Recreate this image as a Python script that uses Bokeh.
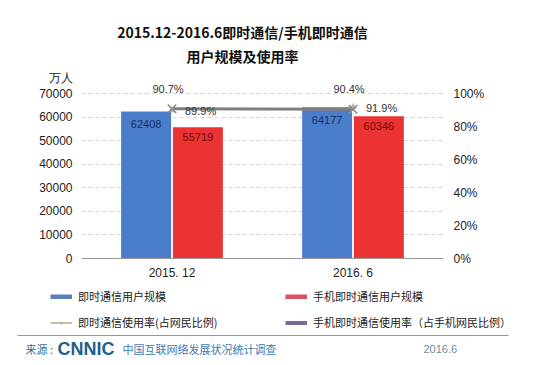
from bokeh.plotting import figure
from bokeh.layouts import column
from bokeh.models import (ColumnDataSource, Range1d, LinearAxis, FactorRange, Label, LabelSet,
                          FixedTicker, CustomJSTickFormatter, Legend, LegendItem, BoxAnnotation)
from bokeh.transform import dodge
from bokeh.core.properties import value
from bokeh.embed import file_html
from bokeh.resources import INLINE

# ---- data ----
periods = ["2015. 12", "2016. 6"]
im_users = [62408, 64177]            # 即时通信用户规模（万人）
mobile_im_users = [55719, 60346]     # 手机即时通信用户规模（万人）
im_rate = [90.7, 90.4]               # 即时通信使用率 %
mobile_im_rate = [89.9, 91.9]        # 手机即时通信使用率 %
y_ticks = [0, 10000, 20000, 30000, 40000, 50000, 60000, 70000]
pct_ticks = [0, 20, 40, 60, 80, 100]
unit_label = "万人"

series_names = ["即时通信用户规模", "手机即时通信用户规模",
                "即时通信使用率(占网民比例)", "手机即时通信使用率（占手机网民比例）"]
title_lines = ["2015.12-2016.6即时通信/手机即时通信", "用户规模及使用率"]

BLUE = "#4a7ecb"
RED = "#ec3333"
CJK = "Noto Sans CJK SC"
LAT = "Liberation Sans"
W = 552

# ---------------- title strip ----------------
top = figure(width=W, height=70, x_range=Range1d(0, W), y_range=Range1d(70, 0),
             x_axis_type=None, y_axis_type=None, output_backend="svg", toolbar_location=None,
             min_border=0, frame_align=False)
top.outline_line_color = None
top.grid.visible = False
top.add_layout(Label(x=242, y=31, text=title_lines[0], text_align="center", text_baseline="middle",
                     text_font=CJK, text_font_style="bold", text_font_size="14px", text_color="#111111"))
top.add_layout(Label(x=242, y=55, text=title_lines[1], text_align="center", text_baseline="middle",
                     text_font=CJK, text_font_style="bold", text_font_size="14px", text_color="#111111"))

# ---------------- main chart ----------------
src = ColumnDataSource(dict(
    period=periods,
    im=im_users, mim=mobile_im_users,
    imr=im_rate, mimr=mobile_im_rate,
    im_lbl=[str(v) for v in im_users],
    mim_lbl=[str(v) for v in mobile_im_users],
    imr_lbl=[f"{v:.1f}%" for v in im_rate],
    mimr_lbl=[f"{v:.1f}%" for v in mobile_im_rate],
))

FRAME_H = 188          # frame pixel height
AXIS_H = 165           # pixels covered by 0..70000
y_top = y_ticks[-1] * FRAME_H / AXIS_H
pct_top = pct_ticks[-1] * FRAME_H / AXIS_H
unit_tick = y_ticks[-1] * (FRAME_H - 5) / AXIS_H

p = figure(width=W, height=213, x_range=FactorRange(*periods), y_range=Range1d(0, y_top),
           output_backend="svg", toolbar_location=None, frame_align=False,
           min_border_left=81, min_border_right=109, min_border_top=0, min_border_bottom=25)
p.outline_line_color = None

p.yaxis.ticker = FixedTicker(ticks=y_ticks + [unit_tick])
p.yaxis.major_label_overrides = {unit_tick: unit_label}
p.yaxis.axis_line_color = None
p.yaxis.major_tick_line_color = None
p.yaxis.minor_tick_line_color = None
p.yaxis.major_tick_out = 0
p.yaxis.major_label_standoff = 9
p.yaxis.major_label_text_font = LAT
p.yaxis.major_label_text_font_size = "12px"
p.yaxis.major_label_text_color = "#222222"

p.xaxis.axis_line_color = "#9a9a9a"
p.xaxis.major_tick_line_color = None
p.xaxis.major_tick_out = 0
p.xaxis.major_label_standoff = 7
p.xaxis.major_label_text_font = LAT
p.xaxis.major_label_text_font_size = "12px"
p.xaxis.major_label_text_color = "#222222"

p.xgrid.visible = False
p.ygrid.ticker = FixedTicker(ticks=y_ticks[1:])
p.ygrid.grid_line_color = "#d4d4d4"
p.ygrid.grid_line_dash = "4 3"

p.extra_y_ranges = {"pct": Range1d(0, pct_top)}
ra = LinearAxis(y_range_name="pct", ticker=FixedTicker(ticks=pct_ticks),
                formatter=CustomJSTickFormatter(code="return tick + '%'"))
ra.axis_line_color = None
ra.major_tick_line_color = None
ra.minor_tick_line_color = None
ra.major_tick_out = 0
ra.major_label_standoff = 10
ra.major_label_text_font = LAT
ra.major_label_text_font_size = "12px"
ra.major_label_text_color = "#222222"
p.add_layout(ra, "right")

p.vbar(x=dodge("period", -0.143, range=p.x_range), top="im", width=0.276, source=src,
       fill_color=BLUE, line_color=None)
p.vbar(x=dodge("period", 0.143, range=p.x_range), top="mim", width=0.276, source=src,
       fill_color=RED, line_color=None)

p.add_layout(LabelSet(x=dodge("period", -0.143, range=p.x_range), y="im", text="im_lbl", source=src,
                      y_offset=-13, text_align="center", text_baseline="middle",
                      text_font=value(LAT), text_font_size="11px", text_color="#1a2e5c"))
p.add_layout(LabelSet(x=dodge("period", 0.143, range=p.x_range), y="mim", text="mim_lbl", source=src,
                      y_offset=-10, text_align="center", text_baseline="middle",
                      text_font=value(LAT), text_font_size="11px", text_color="#6b0a0a"))

p.line(x="period", y="imr", source=src, y_range_name="pct", line_color="#7f7f7f", line_width=3)
p.scatter(x="period", y="mimr", source=src, y_range_name="pct", marker="triangle", size=7,
          fill_color="#9aab80", line_color=None, fill_alpha=0.8)
p.scatter(x="period", y="imr", source=src, y_range_name="pct", marker="x", size=12,
          line_color="#8c8c8c", line_width=1.5)

p.add_layout(LabelSet(x="period", y="imr", text="imr_lbl", source=src, y_range_name="pct",
                      x_offset=-4, y_offset=20, text_align="center", text_baseline="middle",
                      text_font=value(LAT), text_font_size="11px", text_color="#333333"))
p.add_layout(LabelSet(x="period", y="mimr", text="mimr_lbl", source=src, y_range_name="pct",
                      x_offset=13, y_offset=-1, text_align="left", text_baseline="middle",
                      text_font=value(LAT), text_font_size="11px", text_color="#333333"))

# ---------------- legend + footer strip ----------------
bot = figure(width=W, height=82, x_range=Range1d(0, W), y_range=Range1d(365, 283),
             x_axis_type=None, y_axis_type=None, output_backend="svg", toolbar_location=None,
             min_border=0, frame_align=False)
bot.outline_line_color = None
bot.grid.visible = False

# legend-only renderers (a single NaN point, so nothing is drawn in the strip itself)
dummy = ColumnDataSource(dict(x=[float("nan")], y=[float("nan")]))
r1 = bot.line(x="x", y="y", source=dummy, line_color="#5b7fb8", line_width=5)
r2 = bot.line(x="x", y="y", source=dummy, line_color="#d9535f", line_width=5)
r3a = bot.line(x="x", y="y", source=dummy, line_color="#b5ad80", line_width=1.5)
r3b = bot.scatter(x="x", y="y", source=dummy, marker="cross", size=5, line_color="#9a9a70")
r4 = bot.line(x="x", y="y", source=dummy, line_color="#7a6a92", line_width=4)
leg = Legend(items=[LegendItem(label=series_names[0], renderers=[r1]),
                    LegendItem(label=series_names[2], renderers=[r3a, r3b]),
                    LegendItem(label=series_names[1], renderers=[r2]),
                    LegendItem(label=series_names[3], renderers=[r4])],
             location=(50, 33), ncols=2, orientation="vertical",
             glyph_width=22, glyph_height=5, label_standoff=6, label_width=201,
             label_height=20, spacing=6, padding=0, margin=0,
             border_line_color=None, background_fill_alpha=0,
             label_text_font=CJK, label_text_font_size="11px", label_text_color="#222222")
bot.add_layout(leg, "center")

bot.add_layout(BoxAnnotation(left=17, right=508, top=334.5, bottom=335.5,
                             fill_color="#8a9aa8", fill_alpha=1, line_color=None))
bot.add_layout(Label(x=25, y=348, text="来源 :", text_align="left", text_baseline="middle",
                     text_font=CJK, text_font_size="11px", text_color="#2e6f9e"))
bot.add_layout(Label(x=57, y=348, text="CNNIC", text_align="left", text_baseline="middle",
                     text_font=LAT, text_font_style="bold", text_font_size="18px", text_color="#1f5f8b"))
bot.add_layout(Label(x=122, y=348, text="中国互联网络发展状况统计调查", text_align="left",
                     text_baseline="middle", text_font=CJK, text_font_size="11px", text_color="#3d7ab3"))
bot.add_layout(Label(x=423, y=348, text="2016.6", text_align="left", text_baseline="middle",
                     text_font=LAT, text_font_size="11px", text_color="#6f8ba3"))

layout = column(top, p, bot, spacing=0)
open("out.html", "w").write(file_html(layout, INLINE))
